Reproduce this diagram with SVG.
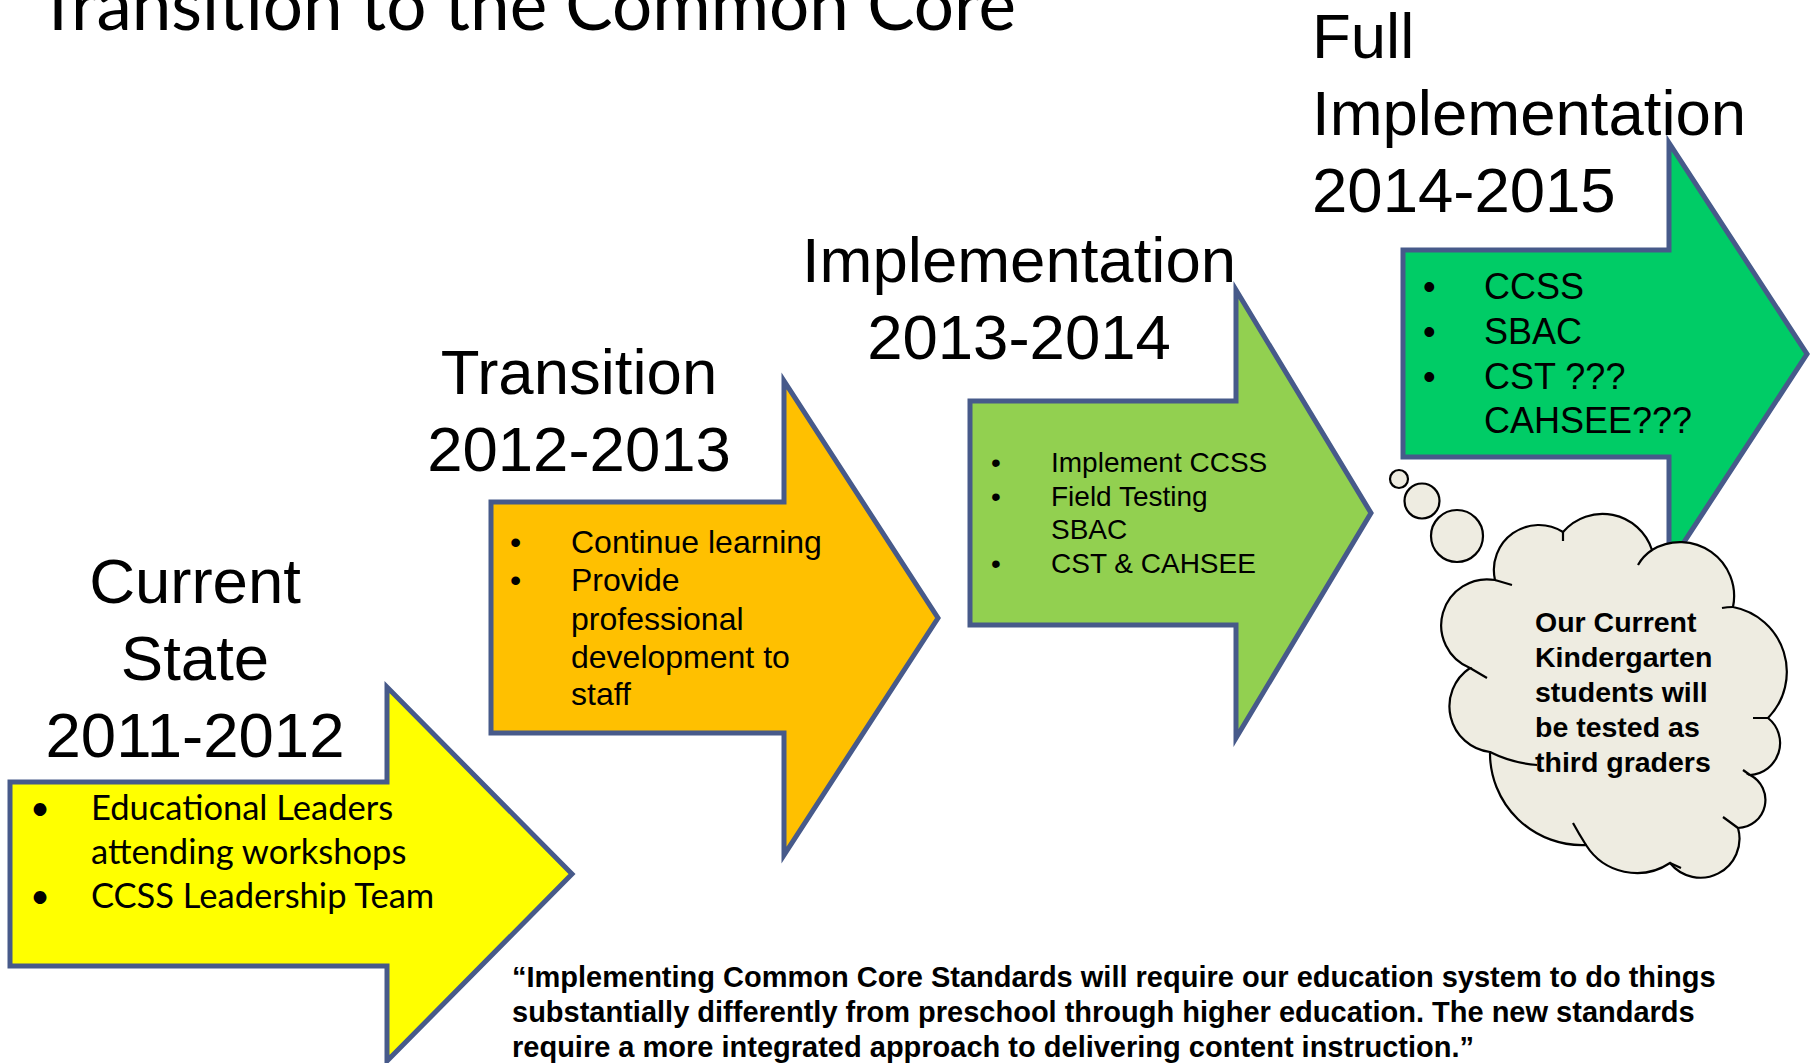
<svg xmlns="http://www.w3.org/2000/svg" width="1810" height="1063" viewBox="0 0 1810 1063">
<style>
.arrow{stroke:#475A8A;stroke-width:5;stroke-linejoin:miter}
.head{font-family:"Liberation Sans",Arial,sans-serif;font-size:63.5px;fill:#000}
.cal{font-family:Lato,"Liberation Sans",sans-serif;fill:#000}
.ar{font-family:"Liberation Sans",Arial,sans-serif;fill:#000}
.bold{font-family:"Liberation Sans",Arial,sans-serif;font-weight:bold;fill:#000}
.cloud{fill:#EEECE1;stroke:#000;stroke-width:2.2}
.hook{fill:none;stroke:#000;stroke-width:2.2}
</style>
<rect width="1810" height="1063" fill="#fff"/>
<g id="title">
<text class="cal" x="37" y="30" font-size="71">Transition to the Common Core</text>
</g>
<g id="node-current">
<path class="arrow" fill="#FFFF00" d="M10,782 H387 V687 L572,874 L387,1061 V966 H10 Z"/>
<text class="head" text-anchor="middle" x="195" y="603">Current</text>
<text class="head" text-anchor="middle" x="195" y="680">State</text>
<text class="head" text-anchor="middle" x="195" y="757">2011-2012</text>
<g class="cal" font-size="34.5">
<text x="30" y="820">•</text><text x="91" y="820">Educational Leaders</text>
<text x="91" y="864">attending workshops</text>
<text x="30" y="908">•</text><text x="91" y="908">CCSS Leadership Team</text>
</g>
</g>
<g id="node-transition">
<path class="arrow" fill="#FFC000" d="M491,502 H784 V381 L938,618 L784,855 V733 H491 Z"/>
<text class="head" text-anchor="middle" x="579" y="394">Transition</text>
<text class="head" text-anchor="middle" x="579" y="471">2012-2013</text>
<g class="ar" font-size="32">
<text x="510" y="553">•</text><text x="571" y="553">Continue learning</text>
<text x="510" y="591">•</text><text x="571" y="591">Provide</text>
<text x="571" y="630">professional</text>
<text x="571" y="668">development to</text>
<text x="571" y="705">staff</text>
</g>
</g>
<g id="node-implementation">
<path class="arrow" fill="#92D050" d="M970,401 H1236 V290 L1371,513 L1236,738 V625 H970 Z"/>
<text class="head" text-anchor="middle" x="1019" y="282">Implementation</text>
<text class="head" text-anchor="middle" x="1019" y="359">2013-2014</text>
<g class="ar" font-size="28">
<text x="991" y="472">•</text><text x="1051" y="472">Implement CCSS</text>
<text x="991" y="506">•</text><text x="1051" y="506">Field Testing</text>
<text x="1051" y="539">SBAC</text>
<text x="991" y="573">•</text><text x="1051" y="573">CST &amp; CAHSEE</text>
</g>
</g>
<g id="node-full">
<path class="arrow" fill="#00CC66" d="M1403,250 H1669 V143 L1807,354 L1669,565 V457 H1403 Z"/>
<text class="head" x="1312" y="58">Full</text>
<text class="head" x="1312" y="135">Implementation</text>
<text class="head" x="1312" y="212">2014-2015</text>
<g class="ar" font-size="36">
<text x="1423" y="299">•</text><text x="1484" y="299">CCSS</text>
<text x="1423" y="344">•</text><text x="1484" y="344">SBAC</text>
<text x="1423" y="389">•</text><text x="1484" y="389">CST ???</text>
<text x="1484" y="433">CAHSEE???</text>
</g>
</g>
<g id="node-cloud">
<circle class="cloud" cx="1399" cy="479" r="9"/>
<circle class="cloud" cx="1422" cy="501" r="17.5"/>
<circle class="cloud" cx="1457" cy="536" r="26"/>
<path class="cloud" d="M1495,580 A45,45 0 0,1 1563,532 A52,52 0 0,1 1652,550 A54,54 0 0,1 1733,607 A66,66 0 0,1 1768,718 A32,32 0 0,1 1750,775 A28,28 0 0,1 1738,828 A39,39 0 0,1 1670,863 A60,60 0 0,1 1586,845 A92,92 0 0,1 1490,752 A46,46 0 0,1 1470,668 A46,46 0 0,1 1495,580 Z"/>
<path class="hook" d="M1563,532 L1563,541 M1652,550 Q1643,556 1638,565 M1733,607 Q1727,607 1722,608 M1768,718 L1753,718 M1750,775 L1743,770 M1738,828 L1723,817 M1670,863 L1681,868 M1586,845 Q1579,834 1573,823 M1490,752 Q1512,763 1537,765 M1470,668 L1487,678 M1495,580 L1512,585"/>
<g class="bold" font-size="28.5">
<text x="1535" y="632">Our Current</text>
<text x="1535" y="667">Kindergarten</text>
<text x="1535" y="702">students will</text>
<text x="1535" y="737">be tested as</text>
<text x="1535" y="772">third graders</text>
</g>
</g>
<g id="connectors"></g>
<g id="quote" class="bold" font-size="29">
<text x="512" y="987">“Implementing Common Core Standards will require our education system to do things</text>
<text x="512" y="1022">substantially differently from preschool through higher education. The new standards</text>
<text x="512" y="1057">require a more integrated approach to delivering content instruction.”</text>
</g>
</svg>
